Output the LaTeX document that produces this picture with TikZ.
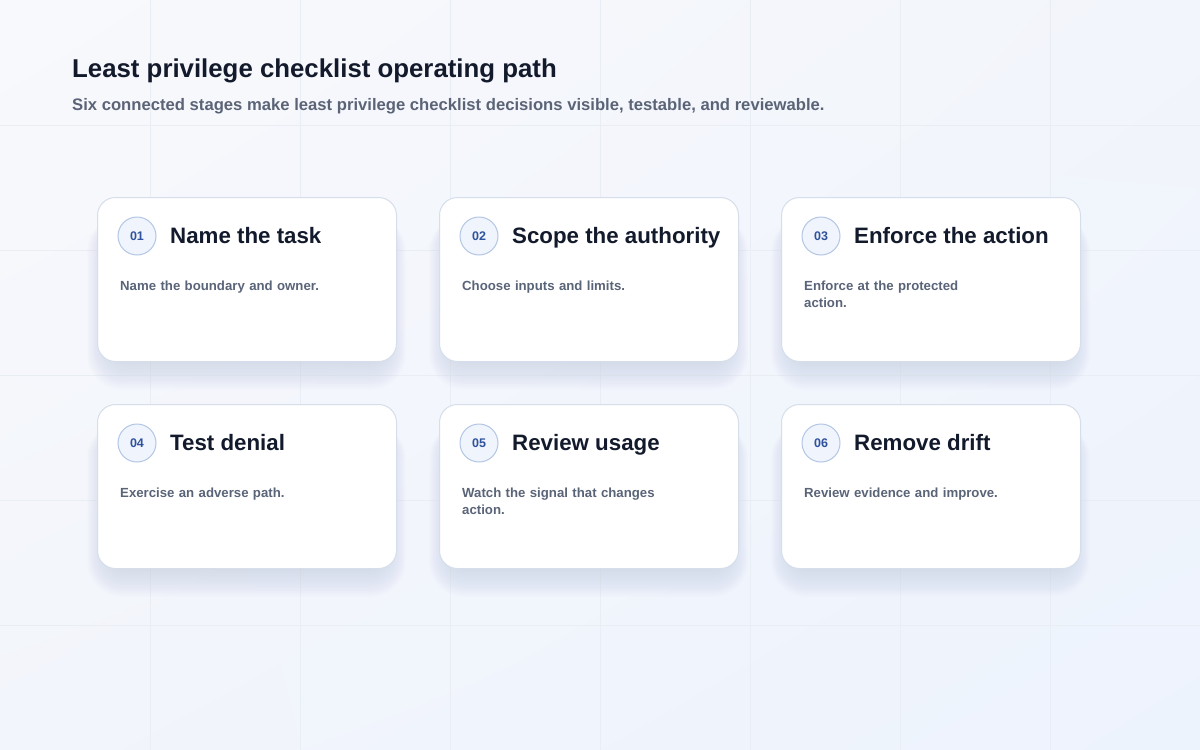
\documentclass[tikz,border=0pt]{standalone}
\usepackage{fontspec}
\setmainfont{Liberation Sans}
\usetikzlibrary{positioning,shadings}
\definecolor{bgtop}{HTML}{F8F9FC}
\definecolor{bgmid}{HTML}{F2F5FB}
\definecolor{bgbot}{HTML}{EDF3FD}
\definecolor{gridc}{HTML}{E9EDF4}
\definecolor{shadowc}{HTML}{8A94B4}
\definecolor{cardline}{HTML}{D5DEEA}
\definecolor{titlec}{HTML}{121A2C}
\definecolor{subc}{HTML}{5B6477}
\definecolor{bodyc}{HTML}{5A6478}
\definecolor{badgefill}{HTML}{EFF4FD}
\definecolor{badgeline}{HTML}{B3C6E5}
\definecolor{badgetext}{HTML}{2F529C}
\tikzset{
  gridline/.style={draw=gridc, line width=0.6pt},
  card/.style={draw=cardline, fill=white, line width=1pt, rounded corners=18pt,
    minimum width=299pt, minimum height=164pt, anchor=north west, inner sep=0pt},
  badge/.style={circle, draw=badgeline, fill=badgefill, line width=1pt,
    minimum size=38pt, inner sep=0pt, text=badgetext,
    font=\fontsize{12.5}{14}\selectfont\bfseries},
  cardtitle/.style={anchor=base west, inner sep=0pt, text=titlec,
    font=\fontsize{22.3}{26}\selectfont\bfseries},
  cardbody/.style={anchor=base west, inner sep=0pt, text width=260pt, align=left,
    text=bodyc, font=\fontsize{13.2}{17}\selectfont\bfseries},
}
\begin{document}
\begin{tikzpicture}[x=1pt,y=-1pt]
  \shade[upper left=bgtop, upper right=bgmid, lower left=bgmid, lower right=bgbot]
    (0,0) rectangle (1200,750);
  \useasboundingbox (0,0) rectangle (1200,750);
  \foreach \gx in {150,300,...,1050}
    \draw[gridline] (\gx,0) -- (\gx,750);
  \foreach \gy in {125,250,...,625}
    \draw[gridline] (0,\gy) -- (1200,\gy);
  \node[anchor=base west, inner sep=0pt, text=titlec,
    font=\fontsize{25.8}{30}\selectfont\bfseries] (title) at (72,77)
    {Least privilege checklist operating path};
  \node[anchor=base west, inner sep=0pt, text=subc,
    font=\fontsize{16.65}{20}\selectfont\bfseries] (subtitle) at (72,110)
    {Six connected stages make least privilege checklist decisions visible, testable, and reviewable.};
  \foreach \n/\cx/\cy/\heading/\desc in {
      1/97/197/{Name the task}/{Name the boundary and owner.},
      2/439/197/{Scope the authority}/{Choose inputs and limits.},
      3/781/197/{Enforce the action}/{Enforce at the protected\\action.},
      4/97/404/{Test denial}/{Exercise an adverse path.},
      5/439/404/{Review usage}/{Watch the signal that changes\\action.},
      6/781/404/{Remove drift}/{Review evidence and improve.}}{
    \foreach \s [evaluate=\s as \r using 14+\s] in {1,...,22}
      \fill[shadowc, opacity=0.011, rounded corners=\r pt]
        (\cx+14-1.1*\s, \cy+30-0.5*\s) rectangle (\cx+285+1.1*\s, \cy+160+1.5*\s);
    \node[card] (c\n) at (\cx,\cy) {};
    \node[badge] (b\n) at ([xshift=40pt,yshift=-39pt]c\n.north west) {0\n};
    \node[cardtitle] (t\n) at ([xshift=73pt,yshift=-46pt]c\n.north west) {\heading};
    \node[cardbody] (d\n) at ([xshift=23pt,yshift=-93pt]c\n.north west) {\desc};
  }
\end{tikzpicture}
\end{document}
